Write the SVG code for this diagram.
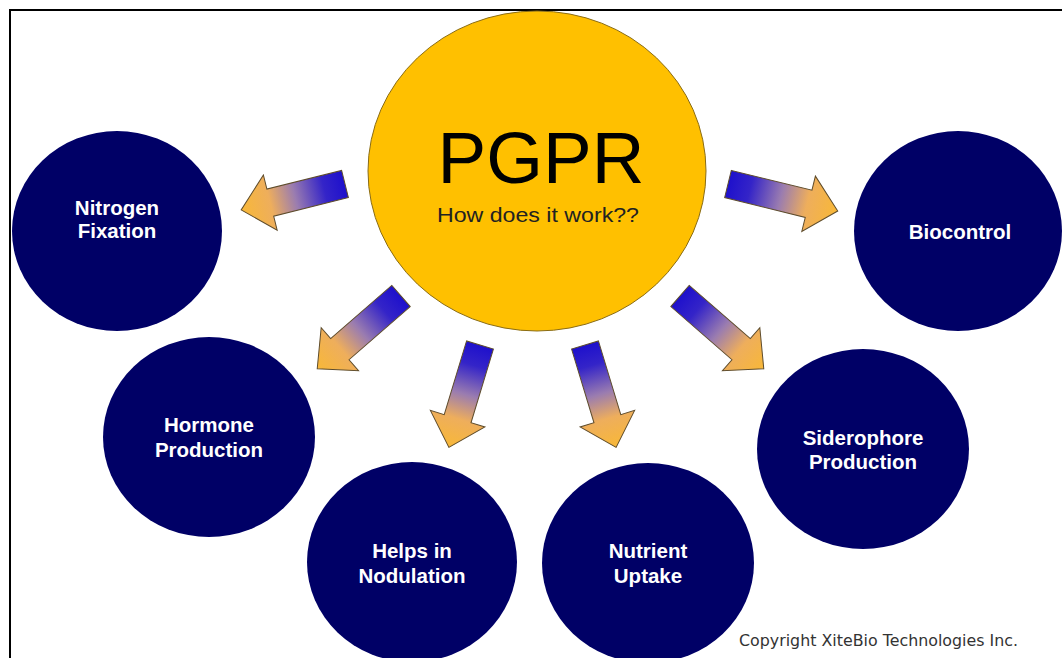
<svg xmlns="http://www.w3.org/2000/svg" width="1062" height="658" viewBox="0 0 1062 658">
  <style>
    .node { fill: #000066; }
    .lbl { font-family: "Liberation Sans", Arial, sans-serif; font-weight: bold; font-size: 20.5px; fill: #ffffff; text-anchor: middle; }
    .arrow { fill: url(#ag); stroke: #5e4c2c; stroke-width: 1; stroke-linejoin: miter; }
  </style>
  <defs>
    <linearGradient id="ag" x1="0" y1="0" x2="1" y2="0">
      <stop offset="0" stop-color="#1e10cc"/>
      <stop offset="0.2" stop-color="#3424c8"/>
      <stop offset="0.48" stop-color="#9a7cb0"/>
      <stop offset="0.72" stop-color="#eeae5c"/>
      <stop offset="1" stop-color="#f8b838"/>
    </linearGradient>
  </defs>
  <rect x="0" y="0" width="1062" height="658" fill="#ffffff"/>
  <rect x="10" y="10" width="1070" height="670" fill="none" stroke="#000000" stroke-width="2"/>

  <g id="connectors">
    <path class="arrow" transform="translate(345,184) rotate(166)" d="M0,-14 H77 V-28.5 L107,0 L77,28.5 V14 H0 Z"/>
    <path class="arrow" transform="translate(728,184) rotate(13.8)" d="M0,-14 H83 V-28.5 L113,0 L83,28.5 V14 H0 Z"/>
    <path class="arrow" transform="translate(401,296) rotate(139)" d="M0,-14 H81 V-28.5 L111,0 L81,28.5 V14 H0 Z"/>
    <path class="arrow" transform="translate(480,345) rotate(106.9)" d="M0,-14 H77 V-28.5 L107,0 L77,28.5 V14 H0 Z"/>
    <path class="arrow" transform="translate(585,345) rotate(73.1)" d="M0,-14 H77 V-28.5 L107,0 L77,28.5 V14 H0 Z"/>
    <path class="arrow" transform="translate(680,296) rotate(41)" d="M0,-14 H81 V-28.5 L111,0 L81,28.5 V14 H0 Z"/>
  </g>

  <g id="pgpr">
    <ellipse cx="537" cy="171" rx="169" ry="160" fill="#ffc000" stroke="#8a6c14" stroke-width="1"/>
    <text x="541" y="183" font-family="'Liberation Sans', Arial, sans-serif" font-size="73" fill="#000000" text-anchor="middle">PGPR</text>
    <text x="538" y="222" font-family="'Liberation Sans', Arial, sans-serif" font-size="21" fill="#222222" text-anchor="middle" textLength="202" lengthAdjust="spacingAndGlyphs">How does it work??</text>
  </g>

  <g id="nitrogen">
    <ellipse class="node" cx="117" cy="231" rx="105" ry="100"/>
    <text class="lbl" x="117" y="215">Nitrogen</text>
    <text class="lbl" x="117" y="238">Fixation</text>
  </g>
  <g id="biocontrol">
    <ellipse class="node" cx="958" cy="231" rx="104" ry="100"/>
    <text class="lbl" x="960" y="239">Biocontrol</text>
  </g>
  <g id="hormone">
    <ellipse class="node" cx="209" cy="437" rx="106" ry="100"/>
    <text class="lbl" x="209" y="432">Hormone</text>
    <text class="lbl" x="209" y="457">Production</text>
  </g>
  <g id="nodulation">
    <ellipse class="node" cx="412" cy="562" rx="105" ry="100"/>
    <text class="lbl" x="412" y="558">Helps in</text>
    <text class="lbl" x="412" y="583">Nodulation</text>
  </g>
  <g id="nutrient">
    <ellipse class="node" cx="648" cy="563" rx="106" ry="100"/>
    <text class="lbl" x="648" y="558">Nutrient</text>
    <text class="lbl" x="648" y="583">Uptake</text>
  </g>
  <g id="siderophore">
    <ellipse class="node" cx="863" cy="449" rx="106" ry="100"/>
    <text class="lbl" x="863" y="445">Siderophore</text>
    <text class="lbl" x="863" y="469">Production</text>
  </g>

  <text x="739" y="646" font-family="'DejaVu Sans', Verdana, sans-serif" font-size="15.2" fill="#333333" textLength="279" lengthAdjust="spacingAndGlyphs">Copyright XiteBio Technologies Inc.</text>
</svg>
